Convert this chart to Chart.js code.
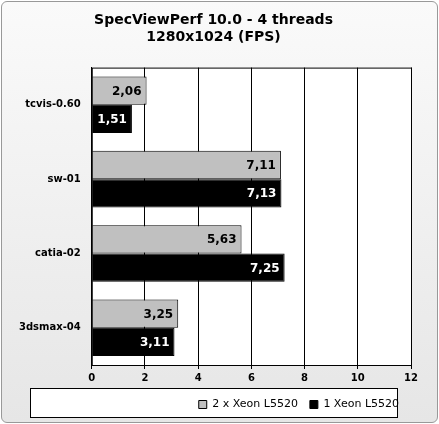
<!DOCTYPE html>
<html><head><script src="https://cdn.jsdelivr.net/npm/chart.js@4"></script>
<style>html,body{margin:0;padding:0;background:#fff}
#wrap{position:absolute;left:1px;top:1px;width:435px;height:420px;border:1px solid #999;border-radius:6px;background:linear-gradient(#fafafa,#e6e6e6)}
</style></head><body><div id="wrap"><canvas id="c" width="435" height="420"></canvas></div>
<script>
const categories=["tcvis-0.60","sw-01","catia-02","3dsmax-04"];
const seriesNames=["2 x Xeon L5520","1 Xeon L5520"];
const dual=[2.06,7.11,5.63,3.25];
const single=[1.51,7.13,7.25,3.11];
const xTicks=[0,2,4,6,8,10,12];
const F="DejaVu Sans";
const labels={id:"labels",afterDatasetsDraw(ch){const ctx=ch.ctx;ctx.save();ctx.font="bold 12px "+F;ctx.textAlign="right";ctx.textBaseline="middle";
ch.data.datasets.forEach((ds,i)=>{ch.getDatasetMeta(i).data.forEach((b,j)=>{ctx.fillStyle=i?"#fff":"#000";ctx.fillText(ds.data[j].toFixed(2).replace(".",","),b.x-5,b.y+1);});});ctx.restore();}};
const border={id:"pb",afterDraw(ch){const a=ch.chartArea,ctx=ch.ctx;ctx.save();ctx.strokeStyle="#000";ctx.lineWidth=1;ctx.strokeRect(a.left+.5,a.top+.5,a.right-a.left,a.bottom-a.top);
const l=ch.legend;ctx.fillStyle="#fff";ctx.globalCompositeOperation="destination-over";ctx.restore();ctx.save();ctx.strokeStyle="#000";ctx.strokeRect(l.left+14.5,l.top+1.5,l.width-28,l.height-4);ctx.restore();}};
const bg={id:"bg",beforeDraw(ch){const a=ch.chartArea,l=ch.legend;ch.ctx.fillStyle="#fff";ch.ctx.fillRect(a.left,a.top,a.right-a.left,a.bottom-a.top);ch.ctx.fillRect(l.left+14,l.top+1,l.width-28,l.height-4);}};
new Chart(document.getElementById("c"),{type:"bar",
data:{labels:categories,datasets:[
{label:seriesNames[0],data:dual,backgroundColor:"#c0c0c0",borderColor:"#000",borderWidth:1,categoryPercentage:0.76,barPercentage:1},
{label:seriesNames[1],data:single,backgroundColor:"#000",borderColor:"#000",borderWidth:1,categoryPercentage:0.76,barPercentage:1}]},
options:{indexAxis:"y",responsive:false,animation:false,
layout:{padding:{left:14,right:26,top:6,bottom:2}},
plugins:{title:{display:true,text:["SpecViewPerf 10.0 - 4 threads","1280x1024 (FPS)"],font:{family:F,size:14,weight:"bold"},color:"#000",padding:{top:4,bottom:22},lineHeight:1.25},
legend:{position:"bottom",align:"end",labels:{font:{family:F,size:11},color:"#000",boxWidth:8,boxHeight:8,padding:12}},tooltip:{enabled:false}},
scales:{x:{min:0,max:12,afterBuildTicks(ax){ax.ticks=xTicks.map(v=>({value:v}));},ticks:{font:{family:F,size:10,weight:"bold"},color:"#000"},grid:{color:"#000",drawTicks:true,tickLength:4},border:{color:"#000"}},
y:{ticks:{font:{family:F,size:10,weight:"bold"},color:"#000"},grid:{display:false},border:{color:"#000"}}}},
plugins:[bg,labels,border]});
</script></body></html>
